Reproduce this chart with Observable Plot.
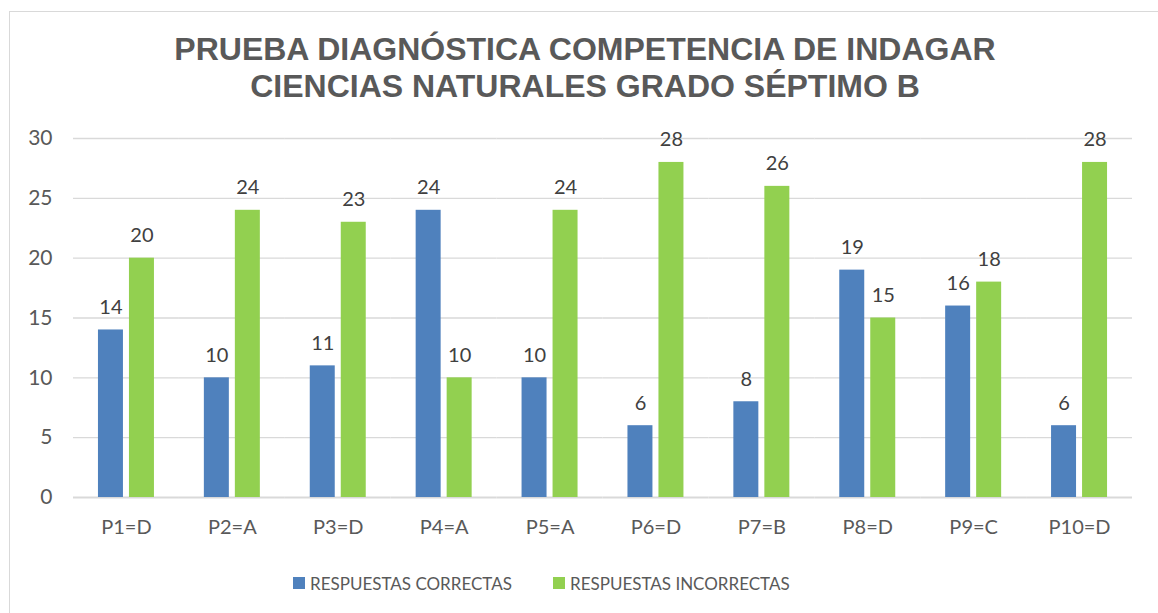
<!DOCTYPE html>
<html>
<head>
<meta charset="utf-8">
<script src="https://cdn.jsdelivr.net/npm/d3@7"></script>
<script src="https://cdn.jsdelivr.net/npm/@observablehq/plot@0.6"></script>
<style>
  html, body { margin: 0; padding: 0; background: #fff; }
  #wrap { position: relative; width: 1158px; height: 613px; overflow: hidden; font-family: Lato, "Open Sans", sans-serif; }
  #frame { position: absolute; left: 9px; top: 11px; width: 1160px; height: 620px; border: 1px solid #d9d9d9; box-sizing: border-box; }
  #title { position: absolute; left: 0; top: 31px; width: 1170px; text-align: center; font-family: "Liberation Sans", Arial, sans-serif; font-weight: bold; font-size: 32px; line-height: 37px; color: #595959; }
  #chart { position: absolute; left: 0; top: 110px; }
  #legend { position: absolute; top: 571px; left: 0; width: 1158px; height: 24px; font-size: 17px; color: #595959; }
  .item { position: absolute; top: 0; display: flex; align-items: center; height: 24px; }
  .sw { width: 12px; height: 12px; margin-right: 5px; }
</style>
</head>
<body>
<div id="wrap">
  <div id="frame"></div>
  <div id="title">PRUEBA DIAGNÓSTICA COMPETENCIA DE INDAGAR<br>CIENCIAS NATURALES GRADO SÉPTIMO B</div>
  <div id="chart"></div>
  <div id="legend"></div>
</div>
<script>
const categories = ["P1=D","P2=A","P3=D","P4=A","P5=A","P6=D","P7=B","P8=D","P9=C","P10=D"];
const seriesNames = ["RESPUESTAS CORRECTAS","RESPUESTAS INCORRECTAS"];
const correctas = [14,10,11,24,10,6,8,19,16,6];
const incorrectas = [20,24,23,10,24,28,26,15,18,28];
const yTicks = [0,5,10,15,20,25,30];
const colors = ["#4F81BD","#92D050"];

const rows = [];
categories.forEach((c, i) => {
  rows.push({q: c, s: seriesNames[0], v: correctas[i]});
  rows.push({q: c, s: seriesNames[1], v: incorrectas[i]});
});

const chart = Plot.plot({
  width: 1158,
  height: 440,
  marginLeft: 73,
  marginRight: 26,
  marginTop: 28,
  marginBottom: 53,
  style: {fontFamily: "Lato, 'Open Sans', sans-serif", fontSize: "20px", color: "#595959", background: "transparent"},
  fx: {domain: categories, padding: 0, round: false, label: null},
  x: {domain: seriesNames, paddingInner: 0.194, paddingOuter: 0.805, round: false, axis: null},
  y: {domain: [0, 30], label: null},
  color: {domain: seriesNames, range: colors},
  marks: [
    Plot.ruleY(yTicks.filter(d => d > 0), {stroke: "#d9d9d9", strokeWidth: 1.3}),
    Plot.ruleY([0], {stroke: "#d9d9d9", strokeWidth: 2}),
    Plot.barY(rows, {fx: "q", x: "s", y: "v", fill: "s"}),
    Plot.text(rows, {fx: "q", x: "s", y: "v", text: d => String(d.v), lineAnchor: "bottom", dy: -16, fill: "#404040", fontSize: 20}),
    Plot.axisY({ticks: yTicks, tickSize: 0, tickPadding: 21, label: null, tickFormat: d => String(d), fill: "#595959", fontSize: 21}),
    Plot.axisFx({anchor: "bottom", tickSize: 0, tickPadding: 22, label: null, fill: "#595959", fontSize: 20})
  ]
});
document.getElementById("chart").appendChild(chart);

const legend = document.getElementById("legend");
const lefts = [293, 553];
seriesNames.forEach((n, i) => {
  const it = document.createElement("div");
  it.className = "item";
  it.style.left = lefts[i] + "px";
  it.innerHTML = `<div class="sw" style="background:${colors[i]}"></div><span>${n}</span>`;
  legend.appendChild(it);
});
</script>
</body>
</html>
